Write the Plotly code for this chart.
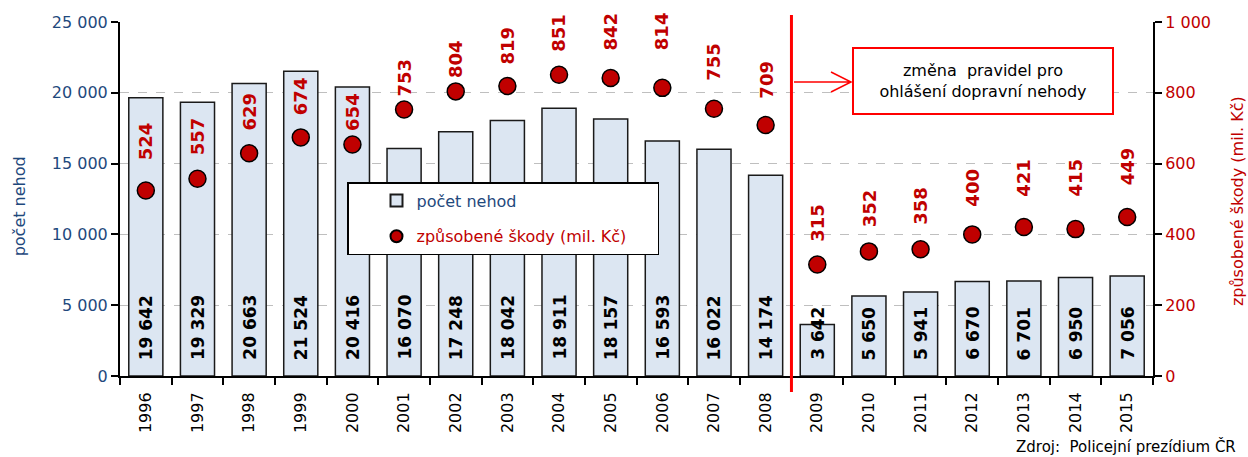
import plotly.graph_objects as go

years = [str(y) for y in range(1996, 2016)]
accidents = [19642, 19329, 20663, 21524, 20416, 16070, 17248, 18042, 18911, 18157,
             16593, 16022, 14174, 3642, 5650, 5941, 6670, 6701, 6950, 7056]
damages = [524, 557, 629, 674, 654, 753, 804, 819, 851, 842,
           814, 755, 709, 315, 352, 358, 400, 421, 415, 449]

# style: vertical pixel offsets of damage labels above their markers (label centre)
damage_label_shift = [49, 43, 42, 41, 33, 32, 32, 41, 42, 46,
                      57, 47, 45, 42, 43, 43, 47, 49, 51, 51]

BLUE = "#1F497D"
RED = "#C00000"
FONT = "DejaVu Sans"

def fmt(v):
    return f"{v:,}".replace(",", " ")

fig = go.Figure()
fig.add_trace(go.Bar(
    x=years, y=accidents, name=f"<span style='color:{BLUE}'>počet nehod</span>",
    marker=dict(color="#DCE6F2", line=dict(color="#1A1A1A", width=1.5)),
    legendgroup="a", hoverinfo="x+y",
))
fig.add_trace(go.Scatter(
    x=years, y=damages, yaxis="y2", mode="markers",
    name=f"<span style='color:{RED}'>způsobené škody (mil. Kč)</span>" + "\u00a0" * 5,
    marker=dict(color=RED, size=17, line=dict(color="#000000", width=1.5)),
    legendgroup="b",
))

ann = []
for i, v in enumerate(accidents):
    ann.append(dict(x=i, y=0, xref="x", yref="y", text=f"<b>{fmt(v)}</b>",
                    textangle=-90, showarrow=False, xanchor="center", yanchor="bottom",
                    yshift=14, font=dict(family=FONT, size=17, color="#000000")))
for i, (v, s) in enumerate(zip(damages, damage_label_shift)):
    ann.append(dict(x=i, y=v, xref="x", yref="y2", text=f"<b>{v}</b>",
                    textangle=-90, showarrow=False, xanchor="center", yanchor="middle",
                    yshift=s, font=dict(family=FONT, size=18, color=RED)))

# axis titles and source
ann.append(dict(x=-0.0975, y=0.48, xref="paper", yref="paper", text="počet nehod",
                xanchor="center", yanchor="middle",
                textangle=-90, showarrow=False, font=dict(family=FONT, size=16, color=BLUE)))
ann.append(dict(x=1.0813, y=0.494, xref="paper", yref="paper",
                xanchor="center", yanchor="middle",
                text="způsobené škody (mil. Kč)", textangle=-90, showarrow=False,
                font=dict(family=FONT, size=16, color=RED)))
ann.append(dict(x=1.0823, y=-0.198, xref="paper", yref="paper", xanchor="right",
                yanchor="middle", text="Zdroj:  Policejní prezídium ČR", showarrow=False,
                font=dict(family=FONT, size=15, color="#000000")))
# note box
ann.append(dict(x=0.8354, y=0.8347, xref="paper", yref="paper",
                xanchor="center", yanchor="middle",
                text="změna  pravidel pro<br>ohlášení dopravní nehody", showarrow=False,
                align="center", width=256, height=62, bgcolor="#FFFFFF",
                bordercolor="#FF0000", borderwidth=2,
                font=dict(family=FONT, size=16, color="#000000")))

def px(x):
    return (x - 120) / 1033

def py(y):
    return (376 - y) / 354

shapes = [
    dict(type="line", xref="x", yref="paper", x0=12.5, x1=12.5, y0=-0.045, y1=1.02,
         line=dict(color="#FF0000", width=3)),
    dict(type="path", xref="paper", yref="paper",
         path=f"M{px(794)},{py(82)} L{px(851)},{py(82)} M{px(831)},{py(72)} L{px(851)},{py(82)} L{px(831)},{py(92)}",
         line=dict(color="#FF0000", width=1.5)),
]

fig.update_layout(
    width=1248, height=457,
    margin=dict(l=120, r=95, t=22, b=81),
    paper_bgcolor="#FFFFFF", plot_bgcolor="#FFFFFF",
    font=dict(family=FONT, size=16, color="#000000"),
    separators=", ",
    bargap=0.34,
    showlegend=True,
    legend=dict(x=px(347), y=py(182), xanchor="left", yanchor="top",
                bgcolor="#FFFFFF", bordercolor="#000000", borderwidth=1.5,
                font=dict(family=FONT, size=16), itemsizing="constant",
                tracegroupgap=12, indentation=28),
    xaxis=dict(type="category", range=[-0.5, 19.5], tickangle=-90,
               showline=True, linecolor="#000000", linewidth=2,
               ticks="outside", tickson="boundaries", ticklen=7, tickcolor="#000000",
               tickwidth=1.5, showgrid=False, ticklabelstandoff=8,
               tickfont=dict(family=FONT, size=16, color="#000000")),
    yaxis=dict(range=[0, 25000], dtick=5000, tickformat=",d",
               showline=True, linecolor="#000000", linewidth=2,
               ticks="outside", ticklen=7, tickcolor="#000000", tickwidth=1.5,
               showgrid=True, gridcolor="#BFBFBF", griddash="dash", gridwidth=1,
               zeroline=False, tickfont=dict(family=FONT, size=16, color=BLUE)),
    yaxis2=dict(range=[0, 1000], dtick=200, tickformat=",d", overlaying="y", side="right",
                showline=True, linecolor="#000000", linewidth=2,
                ticks="outside", ticklen=7, tickcolor="#000000", tickwidth=1.5,
                showgrid=False, zeroline=False, tickfont=dict(family=FONT, size=16, color=RED)),
    annotations=ann,
    shapes=shapes,
)

fig.write_html("out.html", config={"displayModeBar": False},
               post_script="document.body.style.margin='0';")
